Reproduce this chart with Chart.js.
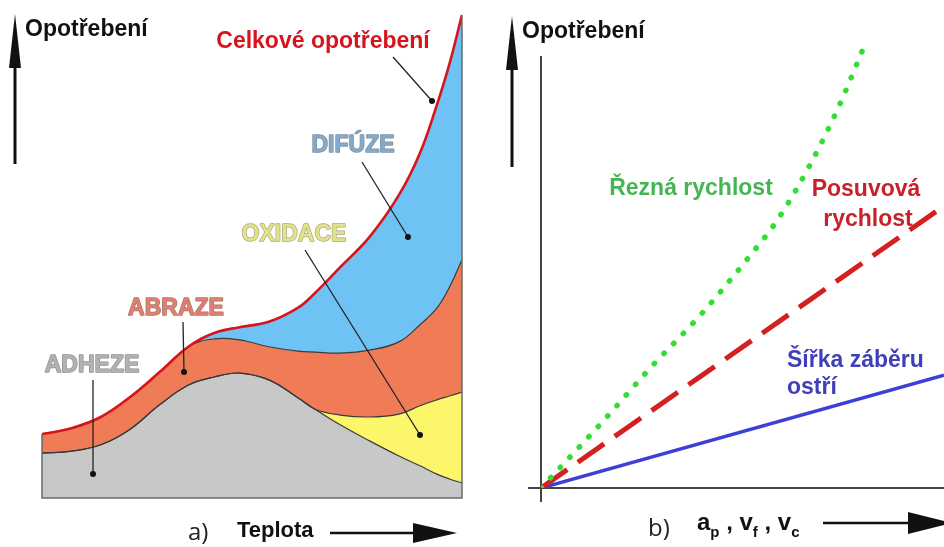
<!DOCTYPE html>
<html>
<head>
<meta charset="utf-8">
<script src="https://cdn.jsdelivr.net/npm/chart.js@4.4.1/dist/chart.umd.min.js"></script>
<style>
html, body { margin: 0; padding: 0; background: #fff; }
#wrap { position: relative; width: 944px; height: 547px; overflow: hidden; }
#c1 { position: absolute; left: 0; top: 0; }
#c2 { position: absolute; left: 470px; top: 0; }
</style>
</head>
<body>
<div id="wrap">
  <canvas id="c1" width="470" height="547"></canvas>
  <canvas id="c2" width="474" height="547"></canvas>
</div>
<script>
// a) opotrebeni vs. teplota - horni hrany jednotlivych vrstev
var teplota = [0, 7, 14, 21, 28, 35, 41, 47, 54, 61, 65, 71, 78, 85, 90, 94, 97, 100];
var adheze  = [9.2, 9.6, 10.9, 14.1, 19.1, 23.2, 24.8, 25.6, 24.2, 20.5, 18.2, 15.0, 11.7, 8.6, 6.6, 4.9, 3.9, 3.1];
var oxidace = [9.2, 9.6, 10.9, 14.1, 19.1, 23.2, 24.8, 25.6, 24.2, 20.5, 18.2, 17.0, 16.6, 17.2, 18.9, 20.1, 20.9, 21.7];
var abraze  = [13.1, 14.3, 16.6, 20.7, 25.8, 31.1, 32.6, 32.4, 31.0, 30.1, 29.9, 29.7, 30.3, 32.0, 35.5, 38.9, 43.2, 48.8];
var celkove = [13.1, 14.3, 16.6, 20.7, 25.8, 31.1, 33.8, 35.0, 36.1, 39.0, 42.0, 47.3, 53.5, 62.1, 70.7, 80.5, 88.9, 99.0];

// b) opotrebeni vs. rezne podminky
var reznaX  = [0, 15, 27, 40, 51, 59, 67, 74, 80];
var reznaY  = [0, 13.6, 25, 36.6, 47.7, 56.5, 68, 80, 92];
var posuvX  = [0, 100];
var posuvY  = [0, 59];
var sirkaX  = [0, 100];
var sirkaY  = [0, 23.6];

function pts(xs, ys) {
  return xs.map(function (x, i) { return { x: x, y: ys[i] }; });
}

var BOLD = '"Liberation Sans", Arial, sans-serif';

function arrow(ctx, x1, y1, x2, y2, headLen, headHalf, w) {
  var a = Math.atan2(y2 - y1, x2 - x1);
  var bx = x2 - Math.cos(a) * headLen, by = y2 - Math.sin(a) * headLen;
  ctx.save();
  ctx.strokeStyle = '#111';
  ctx.fillStyle = '#111';
  ctx.lineWidth = w;
  ctx.beginPath();
  ctx.moveTo(x1, y1);
  ctx.lineTo(bx, by);
  ctx.stroke();
  ctx.beginPath();
  ctx.moveTo(x2, y2);
  ctx.lineTo(bx - Math.sin(a) * headHalf, by + Math.cos(a) * headHalf);
  ctx.lineTo(bx + Math.sin(a) * headHalf, by - Math.cos(a) * headHalf);
  ctx.closePath();
  ctx.fill();
  ctx.restore();
}

function pointer(ctx, x1, y1, x2, y2) {
  ctx.save();
  ctx.strokeStyle = '#222';
  ctx.fillStyle = '#111';
  ctx.lineWidth = 1.3;
  ctx.beginPath();
  ctx.moveTo(x1, y1);
  ctx.lineTo(x2, y2);
  ctx.stroke();
  ctx.beginPath();
  ctx.arc(x2, y2, 3, 0, Math.PI * 2);
  ctx.fill();
  ctx.restore();
}

function label(ctx, txt, x, y, fill, stroke, align, size) {
  ctx.save();
  ctx.font = 'bold ' + (size || 23) + 'px ' + BOLD;
  ctx.textAlign = align || 'center';
  ctx.textBaseline = 'alphabetic';
  if (stroke) {
    ctx.strokeStyle = stroke;
    ctx.lineWidth = 1.4;
    ctx.lineJoin = 'round';
    ctx.strokeText(txt, x, y);
  }
  ctx.fillStyle = fill;
  ctx.fillText(txt, x, y);
  ctx.restore();
}

var leftDecor = {
  id: 'leftDecor',
  afterDatasetsDraw: function (chart) {
    var ctx = chart.ctx, a = chart.chartArea;
    var ys = chart.scales.y;
    ctx.save();
    ctx.strokeStyle = '#6a6a6a';
    ctx.lineWidth = 1.5;
    ctx.beginPath();
    ctx.moveTo(a.left, ys.getPixelForValue(celkove[0]));
    ctx.lineTo(a.left, a.bottom);
    ctx.lineTo(a.right, a.bottom);
    ctx.lineTo(a.right, ys.getPixelForValue(celkove[celkove.length - 1]));
    ctx.stroke();
    ctx.restore();
  },
  afterDraw: function (chart) {
    var ctx = chart.ctx;
    arrow(ctx, 15, 164, 15, 14, 54, 6, 3);
    label(ctx, 'Opotřebení', 25, 36, '#111', null, 'left');
    label(ctx, 'Celkové opotřebení', 323, 48, '#d6141e', null);
    pointer(ctx, 393, 57, 432, 101);
    label(ctx, 'DIFÚZE', 353, 152, '#86a9c8', '#7a93a8');
    pointer(ctx, 362, 162, 408, 237);
    label(ctx, 'OXIDACE', 294, 241, '#e2e28a', '#a6a680');
    pointer(ctx, 305, 250, 420, 435);
    label(ctx, 'ABRAZE', 176, 315, '#df7f70', '#a8766e');
    pointer(ctx, 183, 322, 184, 372);
    label(ctx, 'ADHEZE', 92, 372, '#b2b2b2', '#909090');
    pointer(ctx, 93, 380, 93, 474);
    ctx.save();
    ctx.font = '24px "Open Sans", sans-serif';
    ctx.fillStyle = '#222';
    ctx.fillText('a)', 188, 540);
    ctx.restore();
    label(ctx, 'Teplota', 237, 537, '#111', null, 'left', 22);
    arrow(ctx, 330, 533, 457, 533, 44, 10, 2.5);
  }
};

var rightDecor = {
  id: 'rightDecor',
  beforeDatasetsDraw: function (chart) {
    var ctx = chart.ctx, a = chart.chartArea;
    ctx.save();
    ctx.strokeStyle = '#444';
    ctx.lineWidth = 2;
    ctx.beginPath();
    ctx.moveTo(a.left, 56);
    ctx.lineTo(a.left, a.bottom + 14);
    ctx.moveTo(a.left - 13, a.bottom);
    ctx.lineTo(a.right, a.bottom);
    ctx.stroke();
    ctx.restore();
  },
  afterDraw: function (chart) {
    var ctx = chart.ctx;
    arrow(ctx, 42, 167, 42, 16, 54, 6, 3);
    label(ctx, 'Opotřebení', 52, 38, '#111', null, 'left');
    label(ctx, 'Řezná rychlost', 221, 195, '#45b552', null);
    label(ctx, 'Posuvová', 396, 196, '#c9202b', null);
    label(ctx, 'rychlost', 398, 226, '#c9202b', null);
    label(ctx, 'Šířka záběru', 317, 367, '#3f3fb8', null, 'left');
    label(ctx, 'ostří', 317, 394, '#3f3fb8', null, 'left');
    ctx.save();
    ctx.font = '24px "Open Sans", sans-serif';
    ctx.fillStyle = '#222';
    ctx.fillText('b)', 178, 536);
    ctx.restore();
    // a_p , v_f , v_c
    var parts = [['a', 0], ['p', 1], [' , ', 0], ['v', 0], ['f', 1], [' , ', 0], ['v', 0], ['c', 1]];
    var x = 227;
    ctx.save();
    ctx.fillStyle = '#111';
    parts.forEach(function (p) {
      ctx.font = 'bold ' + (p[1] ? 15 : 24) + 'px ' + BOLD;
      ctx.fillText(p[0], x, p[1] ? 537 : 530);
      x += ctx.measureText(p[0]).width;
    });
    ctx.restore();
    arrow(ctx, 353, 523, 482, 523, 44, 11, 2.5);
  }
};

new Chart(document.getElementById('c1'), {
  type: 'line',
  data: {
    datasets: [
      { label: 'Celkové opotřebení', data: pts(teplota, celkove), borderColor: '#d7141c', borderWidth: 2.6, backgroundColor: '#6ec3f4', fill: 1 },
      { label: 'Abraze', data: pts(teplota, abraze), borderColor: '#3a3a3a', borderWidth: 1.2, backgroundColor: '#f07b57', fill: 2 },
      { label: 'Oxidace', data: pts(teplota, oxidace), borderColor: '#3a3a3a', borderWidth: 1.2, backgroundColor: '#fcf66a', fill: 3 },
      { label: 'Adheze', data: pts(teplota, adheze), borderColor: '#3a3a3a', borderWidth: 1.2, backgroundColor: '#c8c8c8', fill: 'origin' }
    ]
  },
  options: {
    responsive: false,
    animation: false,
    layout: { padding: { left: 42, right: 8, top: 10, bottom: 49 } },
    elements: { point: { radius: 0 }, line: { tension: 0.4 } },
    scales: {
      x: { type: 'linear', min: 0, max: 100, display: false },
      y: { min: 0, max: 100, display: false }
    },
    plugins: { legend: { display: false }, tooltip: { enabled: false }, filler: { drawTime: 'beforeDatasetsDraw' } }
  },
  plugins: [leftDecor]
});

new Chart(document.getElementById('c2'), {
  type: 'line',
  data: {
    datasets: [
      { label: 'Řezná rychlost', data: pts(reznaX, reznaY), borderColor: '#33dd33', borderWidth: 5.5, borderDash: [0.5, 13.5], borderCapStyle: 'round', fill: false },
      { label: 'Posuvová rychlost', data: pts(posuvX, posuvY), borderColor: '#d42020', borderWidth: 5, borderDash: [32, 13], fill: false },
      { label: 'Šířka záběru ostří', data: pts(sirkaX, sirkaY), borderColor: '#3c40d8', borderWidth: 3.5, fill: false }
    ]
  },
  options: {
    responsive: false,
    animation: false,
    layout: { padding: { left: 71, right: 0, top: 10, bottom: 59 } },
    elements: { point: { radius: 0 }, line: { cubicInterpolationMode: 'monotone' } },
    scales: {
      x: { type: 'linear', min: 0, max: 100, display: false },
      y: { min: 0, max: 100, display: false }
    },
    plugins: { legend: { display: false }, tooltip: { enabled: false } }
  },
  plugins: [rightDecor]
});
</script>
</body>
</html>
